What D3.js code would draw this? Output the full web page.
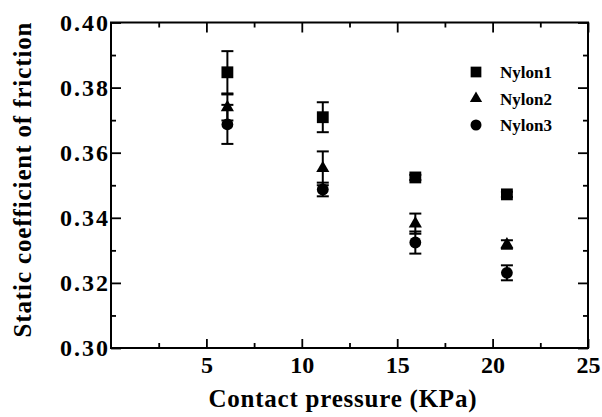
<!DOCTYPE html>
<html>
<head>
<meta charset="utf-8">
<script src="https://cdn.jsdelivr.net/npm/d3@7"></script>
<style>
  body { margin: 0; background: #fff; }
</style>
</head>
<body>
<svg id="chart" width="602" height="417"></svg>
<script>
// contact pressure (KPa) for each group of points
var pressure = [6.1, 11.1, 15.95, 20.75];

var nylon1 = [0.3847, 0.3709, 0.3524, 0.3472];
var nylon1Err = [0.0065, 0.0046, 0.0008, 0.0008];
var nylon2 = [0.3739, 0.3552, 0.3382, 0.3318];
var nylon2Err = [0.0040, 0.0052, 0.0031, 0.0013];
var nylon3 = [0.3687, 0.3487, 0.3324, 0.3231];
var nylon3Err = [0.0060, 0.0021, 0.0034, 0.0023];

var seriesNames = ["Nylon1", "Nylon2", "Nylon3"];

var xMajor = [5, 10, 15, 20, 25];
var xMinor = [2.5, 7.5, 12.5, 17.5, 22.5];
var yMajor = [0.30, 0.32, 0.34, 0.36, 0.38, 0.40];
var yMinor = [0.31, 0.33, 0.35, 0.37, 0.39];

var serif = "'Liberation Serif'";

var svg = d3.select("#chart"),
    margin = {top: 22.5, right: 14, bottom: 69, left: 111},
    width = +svg.attr("width") - margin.left - margin.right,
    height = +svg.attr("height") - margin.top - margin.bottom;

var g = svg.append("g").attr("transform", "translate(" + margin.left + "," + margin.top + ")");

var x = d3.scaleLinear().domain([0, 25]).range([0, width]);
var y = d3.scaleLinear().domain([0.30, 0.40]).range([height, 0]);

function styleAxis(sel) {
    sel.attr("font-family", null).attr("font-size", null);
    sel.select(".domain").remove();
    sel.selectAll("line").attr("stroke", "#000").attr("stroke-width", 1.8);
    sel.selectAll("text")
        .style("font-family", serif)
        .style("font-size", "24px")
        .style("font-weight", "bold")
        .attr("fill", "#000");
}

// bottom
g.append("g").attr("transform", "translate(0," + height + ")")
    .call(d3.axisBottom(x).tickValues(xMajor).tickSize(-9).tickPadding(8).tickFormat(d3.format("d")))
    .call(styleAxis);
g.append("g").attr("transform", "translate(0," + height + ")")
    .call(d3.axisBottom(x).tickValues(xMinor).tickSize(-5).tickFormat(""))
    .call(styleAxis);
// top
g.append("g")
    .call(d3.axisTop(x).tickValues(xMajor).tickSize(-10).tickFormat(""))
    .call(styleAxis);
g.append("g")
    .call(d3.axisTop(x).tickValues(xMinor).tickSize(-5).tickFormat(""))
    .call(styleAxis);
// left
g.append("g")
    .call(d3.axisLeft(y).tickValues(yMajor).tickSize(-10).tickPadding(3).tickFormat(d3.format(".2f")))
    .call(styleAxis)
    .selectAll("text").attr("textLength", 48);
g.append("g")
    .call(d3.axisLeft(y).tickValues(yMinor).tickSize(-5).tickFormat(""))
    .call(styleAxis);
// right
g.append("g").attr("transform", "translate(" + width + ",0)")
    .call(d3.axisRight(y).tickValues(yMajor).tickSize(-10).tickFormat(""))
    .call(styleAxis);
g.append("g").attr("transform", "translate(" + width + ",0)")
    .call(d3.axisRight(y).tickValues(yMinor).tickSize(-5).tickFormat(""))
    .call(styleAxis);

g.append("rect")
    .attr("width", width)
    .attr("height", height)
    .attr("fill", "none")
    .attr("stroke", "#000")
    .attr("stroke-width", 2);

// axis titles
svg.append("text")
    .attr("x", margin.left + width / 2 - 7)
    .attr("y", 407)
    .attr("text-anchor", "middle")
    .attr("textLength", 268)
    .style("font-family", serif)
    .style("font-size", "25px")
    .style("font-weight", "bold")
    .text("Contact pressure (KPa)");

svg.append("text")
    .attr("transform", "translate(31,180) rotate(-90)")
    .attr("text-anchor", "middle")
    .attr("textLength", 315)
    .style("font-family", serif)
    .style("font-size", "25px")
    .style("font-weight", "bold")
    .text("Static coefficient of friction");

var symbols = [d3.symbolSquare, d3.symbolTriangle, d3.symbolCircle];
var sizes = [140, 75, 110];
var values = [nylon1, nylon2, nylon3];
var errors = [nylon1Err, nylon2Err, nylon3Err];

values.forEach(function(vals, s) {
    var pts = pressure.map(function(p, i) { return {x: p, y: vals[i], e: errors[s][i]}; });
    var sg = g.append("g");

    var bars = sg.selectAll(".err").data(pts).enter().append("g")
        .attr("stroke", "#000").attr("stroke-width", 2);
    bars.append("line")
        .attr("x1", function(d) { return x(d.x); })
        .attr("x2", function(d) { return x(d.x); })
        .attr("y1", function(d) { return y(d.y + d.e); })
        .attr("y2", function(d) { return y(d.y - d.e); });
    bars.append("line")
        .attr("x1", function(d) { return x(d.x) - 6; })
        .attr("x2", function(d) { return x(d.x) + 6; })
        .attr("y1", function(d) { return y(d.y + d.e); })
        .attr("y2", function(d) { return y(d.y + d.e); });
    bars.append("line")
        .attr("x1", function(d) { return x(d.x) - 6; })
        .attr("x2", function(d) { return x(d.x) + 6; })
        .attr("y1", function(d) { return y(d.y - d.e); })
        .attr("y2", function(d) { return y(d.y - d.e); });

    sg.selectAll(".pt").data(pts).enter().append("path")
        .attr("d", d3.symbol().type(symbols[s]).size(sizes[s]))
        .attr("transform", function(d) { return "translate(" + x(d.x) + "," + y(d.y) + ")"; })
        .attr("fill", "#000");
});

// legend
var legend = svg.append("g").attr("transform", "translate(476,72)");
seriesNames.forEach(function(name, i) {
    var row = legend.append("g").attr("transform", "translate(0," + (i * 26.5) + ")");
    row.append("path")
        .attr("d", d3.symbol().type(symbols[i]).size([115, 65, 95][i]))
        .attr("fill", "#000");
    row.append("text")
        .attr("x", 24)
        .attr("y", 6)
        .style("font-family", serif)
        .style("font-size", "17px")
        .style("font-weight", "bold")
        .text(name);
});
</script>
</body>
</html>
